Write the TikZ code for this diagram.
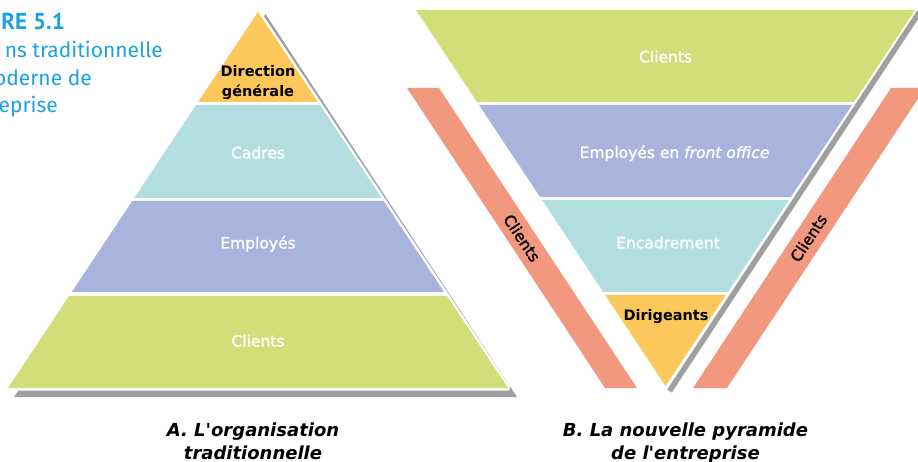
\documentclass[tikz,border=0pt]{standalone}
\usepackage{fontspec}
\setmainfont{DejaVu Sans}[Ligatures=TeXOff,ItalicFont={DejaVu Sans Oblique},BoldFont={DejaVu Sans Bold},BoldItalicFont={DejaVu Sans Bold Oblique}]
\newfontfamily\medfont{DejaVu Sans}[Ligatures=TeXOff,FakeBold=1.4,ItalicFont={DejaVu Sans Oblique},ItalicFeatures={FakeBold=1.4}]
\newfontfamily\titlefont{Fira Sans}
\newfontfamily\titlebold{PT Sans}
\definecolor{cyel}{HTML}{FCC85C}
\definecolor{cteal}{HTML}{B2DEE2}
\definecolor{cblue}{HTML}{A8B4DC}
\definecolor{cgreen}{HTML}{D2DE7A}
\definecolor{corange}{HTML}{F2987F}
\definecolor{cshadow}{HTML}{A0A0A0}
\definecolor{ctitle}{HTML}{1BA1E2}
\begin{document}
\begin{tikzpicture}[x=1pt,y=-1pt,
  lbl/.style={text=white,font=\medfont\fontsize{15.5}{18}\selectfont,anchor=base,inner sep=0pt},
  blbl/.style={text=black,font=\bfseries\fontsize{14.5}{17}\selectfont,anchor=base,inner sep=0pt},
  caplbl/.style={text=black,font=\bfseries\itshape\fontsize{18}{22}\selectfont,anchor=base,inner sep=0pt},
  ttl/.style={text=ctitle,font=\titlefont\fontsize{21}{25}\selectfont,anchor=base east,inner sep=0pt},
  bandlbl/.style={text=black,font=\medfont\fontsize{15.5}{18}\selectfont,inner sep=0pt},
  shadowline/.style={draw=cshadow,line width=5.5pt,line cap=butt}]
\useasboundingbox (0,0) rectangle (918,462);
\clip (0,0) rectangle (918,462);

% ---------- Title (cut by the left edge)
\node[ttl,font=\titlebold\bfseries\fontsize{23}{27}\selectfont] (t1) at (65,29.5) {RE 5.1};
\node[ttl] (t2) at (163,58) {ns traditionnelle};
\node[ttl] (t3) at (92,86) {oderne de};
\node[ttl] (t4) at (58,113) {eprise};

% ---------- A: traditional pyramid
\fill[cshadow] (265.5,14) -- (517,397) -- (14,397) -- cycle;
\draw[white,fill=white,line width=5pt,line join=round] (258,12) -- (508,388) -- (8,388) -- cycle;
\fill[cyel]   (258,12) -- (317.85,102) -- (198.15,102) -- cycle;
\fill[cteal]  (196.15,105) -- (319.85,105) -- (381.7,198) -- (134.3,198) -- cycle;
\fill[cblue]  (132.3,201) -- (383.7,201) -- (444.2,292) -- (71.8,292) -- cycle;
\fill[cgreen] (69.1,296) -- (446.9,296) -- (508,388) -- (8,388) -- cycle;

\node[blbl] (dg1) at (258,76.7) {Direction};
\node[blbl] (dg2) at (258,96.7) {générale};
\node[lbl] (cadres) at (258,158.3) {Cadres};
\node[lbl] (employes) at (258,248.5) {Employés};
\node[lbl] (clientsA) at (258,346.5) {Clients};

\node[caplbl] (capA1) at (253,436) {A. L'organisation};
\node[caplbl] (capA2) at (253,459) {traditionnelle};

% ---------- B: inverted pyramid
\fill[corange] (407,88) -- (439,88) -- (637,388) -- (605,388) -- cycle;
\fill[corange] (891,88) -- (925,88) -- (727,388) -- (693,388) -- cycle;
\draw[shadowline] (919.5,12) -- (669.5,391);

\fill[cgreen] (416,10) -- (915,10) -- (854,102) -- (477,102) -- cycle;
\fill[cblue]  (479,105) -- (852,105) -- (790.9,197) -- (540.1,197) -- cycle;
\fill[cteal]  (542.1,200) -- (788.9,200) -- (727.9,292) -- (603.1,292) -- cycle;
\fill[cyel]   (605.1,295) -- (725.9,295) -- (665.5,386) -- cycle;

\node[lbl] (clientsB) at (665.5,62.3) {Clients};
\node[lbl] (front) at (674.5,158) {Employés en \textit{front office}};
\node[lbl] (encad) at (668,248.3) {Encadrement};
\node[blbl] (dirig) at (666,320) {Dirigeants};

\node[bandlbl,rotate=-56.6] (bandL) at (522,238) {Clients};
\node[bandlbl,rotate=56.6] (bandR) at (808.5,238) {Clients};

\node[caplbl] (capB1) at (685.5,436) {B. La nouvelle pyramide};
\node[caplbl] (capB2) at (685.5,459) {de l'entreprise};
\end{tikzpicture}
\end{document}
